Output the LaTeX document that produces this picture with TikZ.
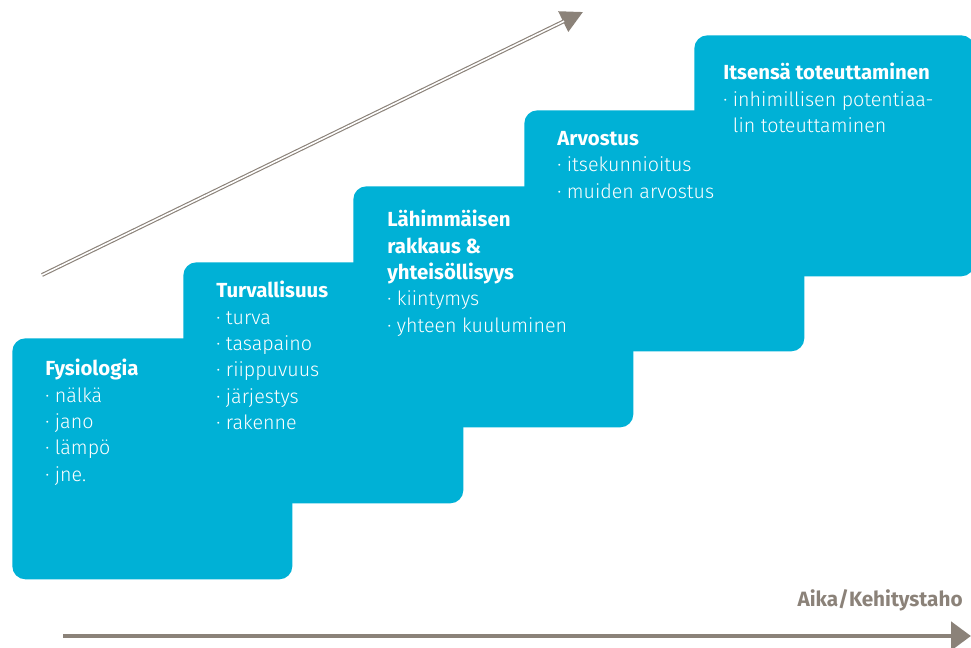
\documentclass[tikz,border=0pt]{standalone}
\usepackage{fontspec}
\setmainfont{Fira Sans}
\newfontfamily\lightfont{Fira Sans Light}
\usetikzlibrary{arrows.meta}
\definecolor{stepblue}{HTML}{00B1D6}
\definecolor{arrowgrey}{HTML}{8B8279}
\newcommand{\bul}{·\ }
\newcommand{\steptitle}[1]{{\rmfamily\bfseries\fontsize{11.6}{15}\selectfont #1}}
\tikzset{
	stepbox/.style={fill=stepblue, rounded corners=0.26cm, anchor=north west, minimum width=5.6cm, minimum height=4.82cm, inner sep=0pt},
	steptext/.style={anchor=north west, align=left, text=white, inner sep=0pt, font=\lightfont\fontsize{11.2}{15}\selectfont},
}
\begin{document}
\begin{tikzpicture}[x=0.02cm, y=-0.02cm]
	\useasboundingbox (0, 0) rectangle (971, 648);

	% portaat
	\node[stepbox] (b1) at (12, 338) {};
	\node[stepbox] (b2) at (183, 262) {};
	\node[stepbox] (b3) at (353, 186) {};
	\node[stepbox] (b4) at (524, 110) {};
	\node[stepbox] (b5) at (694, 35) {};

	% tekstit
	\node[steptext] (t1) at (45, 359) {\steptitle{Fysiologia}\\\bul nälkä\\\bul jano\\\bul lämpö\\\bul jne.};
	\node[steptext] (t2) at (216, 281) {\steptitle{Turvallisuus}\\\bul turva\\\bul tasapaino\\\bul riippuvuus\\\bul järjestys\\\bul rakenne};
	\node[steptext] (t3) at (387, 210) {\steptitle{Lähimmäisen}\\\steptitle{rakkaus \&}\\\steptitle{yhteisöllisyys}\\\bul kiintymys\\\bul yhteen kuuluminen};
	\node[steptext] (t4) at (557, 131) {\steptitle{Arvostus}\\\bul itsekunnioitus\\\bul muiden arvostus};
	\node[steptext] (t5) at (723, 63) {\steptitle{Itsensä toteuttaminen}\\\bul inhimillisen potentiaa-\\\phantom{\bul}lin toteuttaminen};

	% nousu
	\coordinate (n0) at (42, 275);
	\coordinate (n1) at (583, 12);
	\draw[arrowgrey, line width=2.2pt, -{Triangle[length=0.44cm, width=0.44cm]}] (n0) -- (n1);
	\draw[white, line width=0.9pt, shorten >=0.42cm] (n0) -- (n1);

	% aika
	\coordinate (a0) at (63, 636);
	\coordinate (a1) at (971, 636);
	\draw[arrowgrey, line width=2.8pt, -{Triangle[length=0.4cm, width=0.56cm]}] (a0) -- (a1);
	\node[anchor=base east, text=arrowgrey, font=\bfseries\fontsize{11.8}{14}\selectfont, inner sep=0pt] (lbl) at (963, 606) {Aika/Kehitystaho};
\end{tikzpicture}
\end{document}
